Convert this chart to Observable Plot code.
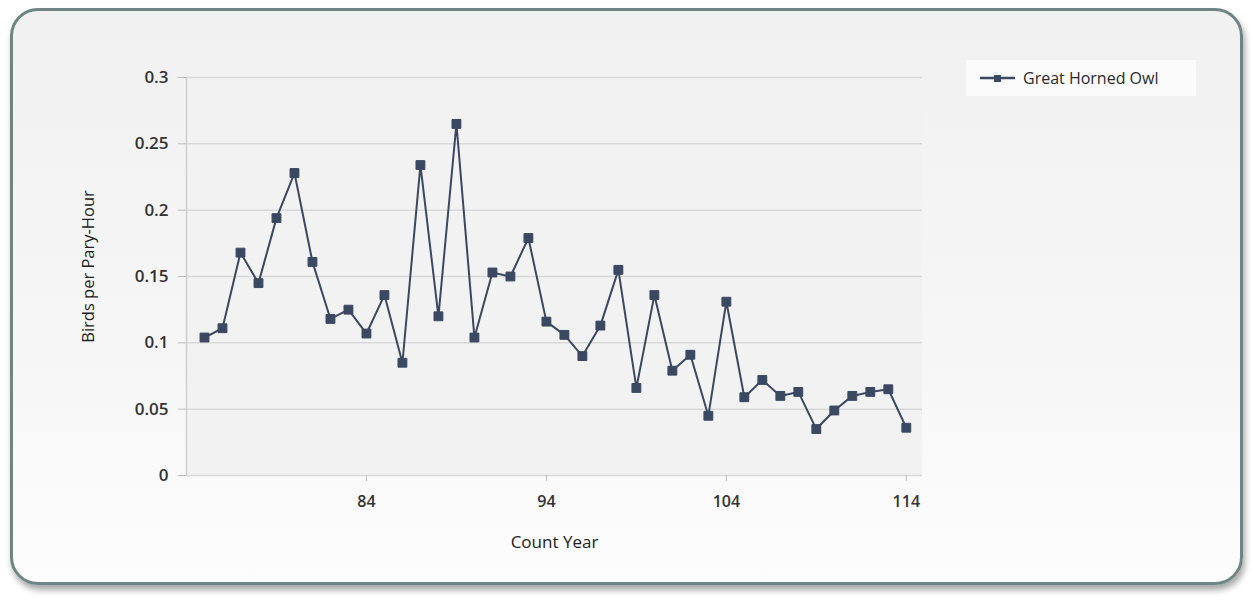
<!DOCTYPE html>
<html>
<head>
<meta charset="utf-8">
<script src="https://cdn.jsdelivr.net/npm/d3@7"></script>
<script src="https://cdn.jsdelivr.net/npm/@observablehq/plot@0.6"></script>
<style>
  html, body { margin: 0; padding: 0; background: #ffffff; }
  #wrap { position: relative; width: 1253px; height: 600px; overflow: hidden; font-family: "Open Sans", "DejaVu Sans", sans-serif; }
  #frame { position: absolute; left: 10px; top: 8px; width: 1227px; height: 571px;
    border: 3px solid #6e8584; border-radius: 28px;
    background: linear-gradient(#f1f1f1, #f6f6f6 60%, #fdfdfd);
    box-shadow: 2px 5px 6px rgba(0,0,0,0.35); }
  #chart { position: absolute; left: 0; top: 0; }
  #legend { position: absolute; left: 966px; top: 60px; width: 230px; height: 36px; background: #fbfbfb;
    display: flex; align-items: center; font-size: 16px; color: #2a2a2a; }
  #legend svg { margin-left: 14px; margin-right: 8px; }
</style>
</head>
<body>
<div id="wrap">
  <div id="frame"></div>
  <div id="chart"></div>
  <div id="legend"><svg width="35" height="10"><line x1="0" y1="5" x2="35" y2="5" stroke="#3b4862" stroke-width="2.5"/><rect x="14" y="2" width="7" height="7" fill="#3b4862"/></svg><span>Great Horned Owl</span></div>
</div>
<script>
const years = [75,76,77,78,79,80,81,82,83,84,85,86,87,88,89,90,91,92,93,94,95,96,97,98,99,100,101,102,103,104,105,106,107,108,109,110,111,112,113,114];
const values = [0.104,0.111,0.168,0.145,0.194,0.228,0.161,0.118,0.125,0.107,0.136,0.085,0.234,0.120,0.265,0.104,0.153,0.150,0.179,0.116,0.106,0.090,0.113,0.155,0.066,0.136,0.079,0.091,0.045,0.131,0.059,0.072,0.060,0.063,0.035,0.049,0.060,0.063,0.065,0.036];
const xTicks = [84, 94, 104, 114];
const yTicks = [0, 0.05, 0.1, 0.15, 0.2, 0.25, 0.3];
const yTickLabels = ["0", "0.05", "0.1", "0.15", "0.2", "0.25", "0.3"];
const seriesName = "Great Horned Owl";

const data = years.map((y, i) => ({year: y, value: values[i]}));
const color = "#3b4862";
const xDomain = [74, 114.9];

const chart = Plot.plot({
  width: 1253,
  height: 600,
  marginLeft: 186,
  marginRight: 331,
  marginTop: 77,
  marginBottom: 125,
  style: { background: "transparent", fontFamily: "'Open Sans', 'DejaVu Sans', sans-serif", fontSize: "15px", color: "#222" },
  x: { domain: xDomain, label: null },
  y: { domain: [0, 0.3], label: null },
  marks: [
    Plot.rect([0], { x1: xDomain[0], x2: xDomain[1], y1: 0, y2: 0.3, fill: "#f2f2f2" }),
    Plot.gridY(yTicks, { stroke: "#d9d9d9", strokeOpacity: 1, strokeWidth: 1.5 }),
    Plot.ruleX([xDomain[0]], { stroke: "#cfcfcf", strokeWidth: 1.5 }),
    Plot.axisY({ ticks: yTicks, tickFormat: (d, i) => yTickLabels[i], tickSize: 8, tickPadding: 10, stroke: "#bbb", fontSize: 17, fontWeight: 600, fill: "#333" }),
    Plot.axisX({ ticks: xTicks, tickFormat: d => String(d), tickSize: 6, tickPadding: 14, stroke: "#bbb", fontSize: 16, fontWeight: 600, fill: "#333" }),
    Plot.line(data, { x: "year", y: "value", stroke: color, strokeWidth: 2 }),
    Plot.dot(data, { x: "year", y: "value", symbol: "square", r: 5, fill: color, stroke: color, strokeWidth: 1 }),
    Plot.text(["Count Year"], { frameAnchor: "bottom", dy: 72, fontSize: 17, fill: "#222" }),
    Plot.text(["Birds per Pary-Hour"], { frameAnchor: "left", textAnchor: "middle", dx: -98, dy: -10, rotate: -90, fontSize: 16.5, fill: "#222" })
  ]
});
document.getElementById("chart").appendChild(chart);
</script>
</body>
</html>
